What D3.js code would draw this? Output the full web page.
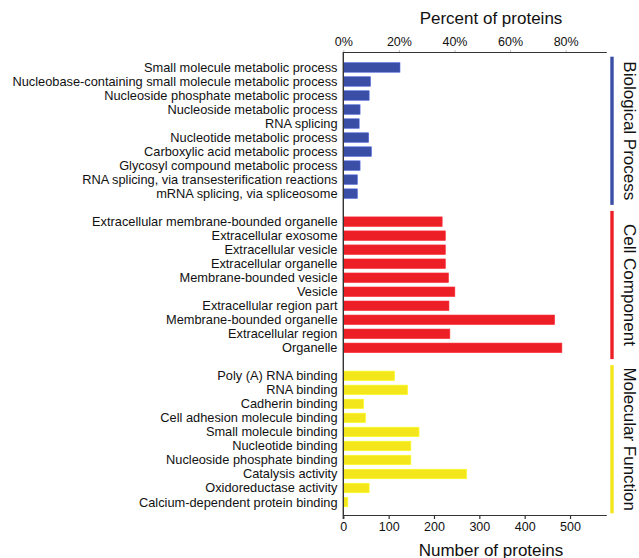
<!DOCTYPE html>
<html><head><meta charset="utf-8">
<script src="https://cdn.jsdelivr.net/npm/d3@7"></script>
<style>
html,body{margin:0;padding:0;background:#fff;}
svg{display:block;font-family:"Liberation Sans",Arial,Helvetica,sans-serif;}
</style></head>
<body>
<svg id="chart" width="639" height="558"></svg>
<script>
// ---- data ----
const bpCategories = [
  "Small molecule metabolic process",
  "Nucleobase-containing small molecule metabolic process",
  "Nucleoside phosphate metabolic process",
  "Nucleoside metabolic process",
  "RNA splicing",
  "Nucleotide metabolic process",
  "Carboxylic acid metabolic process",
  "Glycosyl compound metabolic process",
  "RNA splicing, via transesterification reactions",
  "mRNA splicing, via spliceosome"
];
const bpValues = [125, 60, 57, 37, 35, 56, 62, 37, 31, 31];

const ccCategories = [
  "Extracellular membrane-bounded organelle",
  "Extracellular exosome",
  "Extracellular vesicle",
  "Extracellular organelle",
  "Membrane-bounded vesicle",
  "Vesicle",
  "Extracellular region part",
  "Membrane-bounded organelle",
  "Extracellular region",
  "Organelle"
];
const ccValues = [218, 225, 225, 225, 232, 246, 233, 466, 235, 482];

const mfCategories = [
  "Poly (A) RNA binding",
  "RNA binding",
  "Cadherin binding",
  "Cell adhesion molecule binding",
  "Small molecule binding",
  "Nucleotide binding",
  "Nucleoside phosphate binding",
  "Catalysis activity",
  "Oxidoreductase activity",
  "Calcium-dependent protein binding"
];
const mfValues = [113, 142, 45, 49, 167, 149, 149, 272, 57, 10];

const groupNames = ["Biological Process", "Cell Component", "Molecular Function"];
const groupColors = ["#3a4ea6", "#ec1f27", "#f3e61b"];

const countTicks = [0, 100, 200, 300, 400, 500];
const percentTicks = [0, 20, 40, 60, 80];
const countMax = 580;
const totalProteins = 613;

// ---- build ----
const groups = [
  {name: groupNames[0], cats: bpCategories, vals: bpValues, color: groupColors[0]},
  {name: groupNames[1], cats: ccCategories, vals: ccValues, color: groupColors[1]},
  {name: groupNames[2], cats: mfCategories, vals: mfValues, color: groupColors[2]}
];
const rows = [];
const domain = [];
groups.forEach((g, gi) => {
  if (gi > 0) domain.push("__gap" + gi);
  g.cats.forEach((c, i) => {
    const key = g.name + "|" + c;
    domain.push(key);
    rows.push({key, label: c, value: g.vals[i], color: g.color, group: gi});
  });
});

const svg = d3.select("#chart");
const x0 = 343.3, x1 = 606.3, yTop = 52, yBot = 515;

const x = d3.scaleLinear().domain([0, countMax]).range([x0, x1]);
const xp = d3.scaleLinear().domain([0, countMax / totalProteins * 100]).range([x0, x1]);
const y = d3.scaleBand().domain(domain).range([62.7, 506.8]).paddingInner(0.32).paddingOuter(0);

// bars
svg.append("g").selectAll("rect").data(rows).join("rect")
  .attr("x", x(0))
  .attr("y", d => y(d.key))
  .attr("width", d => x(d.value) - x(0))
  .attr("height", y.bandwidth())
  .attr("fill", d => d.color)
  .attr("stroke", d => d3.color(d.color).brighter(0.8))
  .attr("stroke-width", 0.6);

// category labels
svg.append("g").selectAll("text").data(rows).join("text")
  .attr("x", 337.5)
  .attr("y", d => y(d.key) + y.bandwidth() / 2)
  .attr("dy", "0.35em")
  .attr("text-anchor", "end")
  .attr("font-size", "12.8px")
  .attr("fill", "#111")
  .text(d => d.label);

// bottom axis
const gb = svg.append("g").attr("transform", `translate(0,${yBot})`)
  .call(d3.axisBottom(x).tickValues(countTicks).tickSize(4).tickPadding(3).tickSizeOuter(0));
gb.selectAll("text").attr("font-size", "12.5px").attr("fill", "#111").attr("font-family", "Liberation Sans, Arial, sans-serif");
gb.selectAll("line,path").attr("stroke", "#333").attr("stroke-width", 1.2);

// top axis
const gt = svg.append("g").attr("transform", `translate(0,${yTop})`)
  .call(d3.axisTop(xp).tickValues(percentTicks).tickFormat(d => d + "%").tickSize(2).tickPadding(4).tickSizeOuter(0));
gt.selectAll("text").attr("font-size", "12.5px").attr("fill", "#111").attr("font-family", "Liberation Sans, Arial, sans-serif");
gt.selectAll("path").attr("stroke", "#333").attr("stroke-width", 1.2);
gt.selectAll("line").attr("stroke", "#bbb");

// left axis line
svg.append("line").attr("x1", x0).attr("x2", x0).attr("y1", yTop).attr("y2", yBot + 4)
  .attr("stroke", "#333").attr("stroke-width", 1.4);

// axis titles
svg.append("text").attr("x", 491).attr("y", 24).attr("text-anchor", "middle")
  .attr("font-size", "17px").attr("fill", "#111").text("Percent of proteins");
svg.append("text").attr("x", 491).attr("y", 555.5).attr("text-anchor", "middle")
  .attr("font-size", "17px").attr("fill", "#111").text("Number of proteins");

// group brackets and labels
groups.forEach((g, gi) => {
  const first = y(g.name + "|" + g.cats[0]);
  const last = y(g.name + "|" + g.cats[g.cats.length - 1]) + y.bandwidth();
  const top = first - 6, bot = last + 6.5;
  svg.append("line").attr("x1", 612).attr("x2", 612).attr("y1", top).attr("y2", bot)
    .attr("stroke", g.color).attr("stroke-width", 3.4);
  const cy = (top + bot) / 2;
  svg.append("text")
    .attr("transform", `translate(624,${cy}) rotate(90)`)
    .attr("text-anchor", "middle")
    .attr("font-size", "17px").attr("fill", "#111")
    .text(g.name);
});
</script>
</body></html>
